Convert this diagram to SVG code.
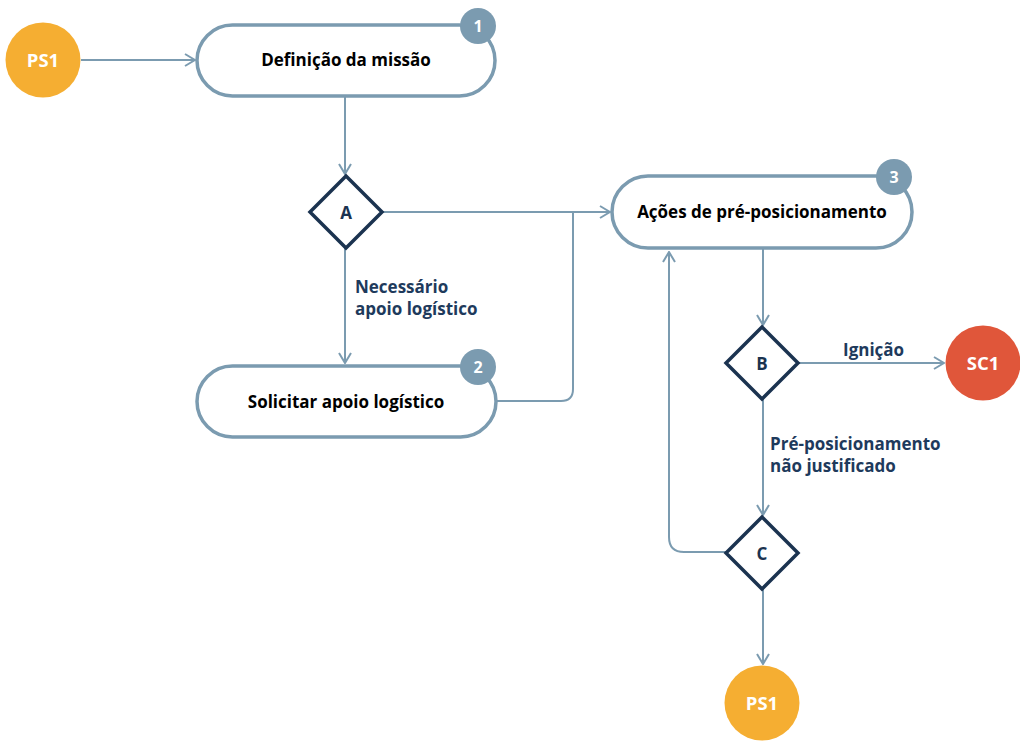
<svg xmlns="http://www.w3.org/2000/svg" width="1020" height="741" viewBox="0 0 1020 741">
<defs>
<marker id="arr" viewBox="0 0 12 14" refX="11" refY="7" markerWidth="12" markerHeight="14" markerUnits="userSpaceOnUse" orient="auto">
<path d="M1,1 L11,7 L1,13" fill="none" stroke="#7b9bb0" stroke-width="2"/>
</marker>
<style>
.ln{fill:none;stroke:#7b9bb0;stroke-width:2}
.box{fill:#fff;stroke:#7b9bb0;stroke-width:3.5}
.badge{fill:#7b9bb0}
.bt{font-family:"Open Sans","Noto Sans",sans-serif;font-weight:bold;font-size:16px;fill:#fff;text-anchor:middle}
.lbl{font-family:"Open Sans","Noto Sans",sans-serif;font-weight:bold;font-size:17px;fill:#000;text-anchor:middle}
.dia{fill:#fff;stroke:#1b3350;stroke-width:3.5}
.dt{font-family:"Open Sans","Noto Sans",sans-serif;font-weight:bold;font-size:17px;fill:#1b3350;text-anchor:middle}
.el{font-family:"Open Sans","Noto Sans",sans-serif;font-weight:bold;font-size:17px;fill:#1e3a5c}
.ct{font-family:"Open Sans","Noto Sans",sans-serif;font-weight:bold;font-size:18.5px;fill:#fff;text-anchor:middle}
</style>
</defs>
<g id="connectors">
<line class="ln" x1="81" y1="60" x2="195" y2="60" marker-end="url(#arr)"/>
<line class="ln" x1="345" y1="97" x2="345" y2="174" marker-end="url(#arr)"/>
<line class="ln" x1="382" y1="212" x2="610" y2="212" marker-end="url(#arr)"/>
<line class="ln" x1="345" y1="248" x2="345" y2="363" marker-end="url(#arr)"/>
<path class="ln" d="M497,401 H561 Q573,401 573,389 V212"/>
<line class="ln" x1="763" y1="249" x2="763" y2="325" marker-end="url(#arr)"/>
<line class="ln" x1="798" y1="363" x2="944" y2="363" marker-end="url(#arr)"/>
<line class="ln" x1="763" y1="399" x2="763" y2="515" marker-end="url(#arr)"/>
<path class="ln" d="M726,552 H684 Q669,552 669,537 V252" marker-end="url(#arr)"/>
<line class="ln" x1="763" y1="589" x2="763" y2="664" marker-end="url(#arr)"/>
</g>
<g id="ps1-top">
<circle cx="43" cy="60" r="37.5" fill="#f5ae32"/>
<text class="ct" x="43" y="66.5">PS1</text>
</g>
<g id="box1">
<rect class="box" x="197" y="25" width="298" height="71" rx="35.5"/>
<text class="lbl" x="346" y="66">Definição da missão</text>
<circle class="badge" cx="478" cy="26" r="18"/>
<text class="bt" x="478" y="32">1</text>
</g>
<g id="diamondA">
<polygon class="dia" points="346,176 382,212 346,248 310,212"/>
<text class="dt" x="346" y="218.5">A</text>
</g>
<g id="labelA">
<text class="el" x="355" y="293">Necessário</text>
<text class="el" x="355" y="315">apoio logístico</text>
</g>
<g id="box2">
<rect class="box" x="197" y="366" width="299" height="71" rx="35.5"/>
<text class="lbl" x="346" y="407.5">Solicitar apoio logístico</text>
<circle class="badge" cx="478" cy="367" r="18"/>
<text class="bt" x="478" y="373">2</text>
</g>
<g id="box3">
<rect class="box" x="612" y="176" width="300" height="72" rx="36"/>
<text class="lbl" x="762" y="218">Ações de pré-posicionamento</text>
<circle class="badge" cx="894" cy="177" r="18"/>
<text class="bt" x="894" y="183">3</text>
</g>
<g id="diamondB">
<polygon class="dia" points="762,327 798,363 762,399 726,363"/>
<text class="dt" x="762" y="369.5">B</text>
</g>
<g id="labelB">
<text class="el" x="843" y="356">Ignição</text>
</g>
<g id="sc1">
<circle cx="983" cy="363" r="37.5" fill="#e0563a"/>
<text class="ct" x="983" y="369.5">SC1</text>
</g>
<g id="labelBC">
<text class="el" x="770" y="450">Pré-posicionamento</text>
<text class="el" x="770" y="472">não justificado</text>
</g>
<g id="diamondC">
<polygon class="dia" points="762,517 798,553 762,589 726,553"/>
<text class="dt" x="762" y="559.5">C</text>
</g>
<g id="ps1-bottom">
<circle cx="762" cy="703" r="37.5" fill="#f5ae32"/>
<text class="ct" x="762" y="709.5">PS1</text>
</g>
</svg>
